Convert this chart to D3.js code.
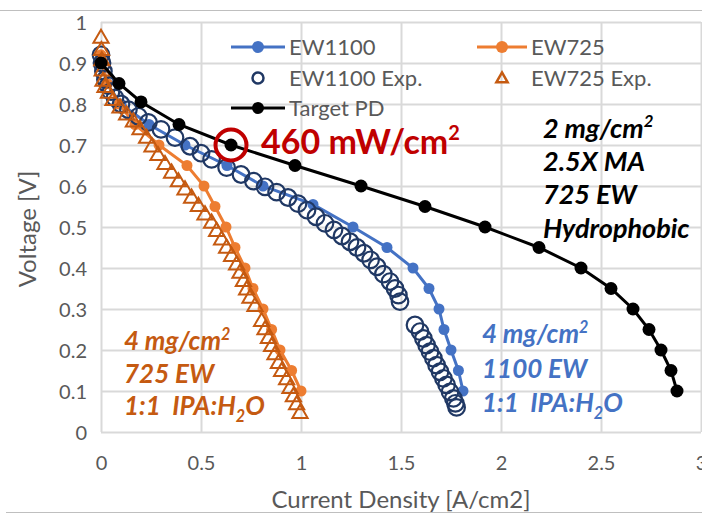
<!DOCTYPE html>
<html>
<head>
<meta charset="utf-8">
<script src="https://cdn.jsdelivr.net/npm/d3@7"></script>
<style>
  html, body { margin: 0; padding: 0; background: #fff; }
  svg { display: block; }
  text { font-family: Lato, "Open Sans", "Liberation Sans", sans-serif; white-space: pre; }
</style>
</head>
<body>
<svg id="chart" width="702" height="516"></svg>
<script>
// Polarization curves: current density [A/cm2] vs. cell voltage [V]
const xTicks = [0, 0.5, 1, 1.5, 2, 2.5, 3];
const xTickLabels = ["0", "0.5", "1", "1.5", "2", "2.5", "3"];
const yTicks = [0, 0.1, 0.2, 0.3, 0.4, 0.5, 0.6, 0.7, 0.8, 0.9, 1];
const yTickLabels = ["0", "0.1", "0.2", "0.3", "0.4", "0.5", "0.6", "0.7", "0.8", "0.9", "1"];

const seriesNames = ["EW1100", "EW725", "EW1100 Exp.", "EW725 Exp.", "Target PD"];

// Model curves
const ew1100 = [
  [0, 0.91], [0.03, 0.85], [0.1, 0.80], [0.24, 0.75], [0.42, 0.70], [0.63, 0.65],
  [0.81, 0.60], [1.06, 0.555], [1.26, 0.50], [1.43, 0.45], [1.56, 0.40], [1.64, 0.35],
  [1.69, 0.30], [1.715, 0.25], [1.75, 0.20], [1.787, 0.15], [1.81, 0.10]
];
const ew725 = [
  [0, 0.92], [0.03, 0.85], [0.09, 0.80], [0.17, 0.75], [0.29, 0.70], [0.43, 0.65],
  [0.515, 0.60], [0.57, 0.55], [0.625, 0.50], [0.67, 0.45], [0.72, 0.40], [0.76, 0.35],
  [0.81, 0.30], [0.853, 0.25], [0.895, 0.20], [0.953, 0.15], [1.0, 0.10]
];

// Measured data
const ew1100Exp = [
  [0, 0.92], [0.005, 0.90], [0.012, 0.88], [0.022, 0.86], [0.035, 0.845], [0.05, 0.83],
  [0.07, 0.815], [0.1, 0.80], [0.137, 0.786], [0.187, 0.77], [0.237, 0.755], [0.30, 0.738],
  [0.37, 0.718], [0.445, 0.697], [0.50, 0.68], [0.553, 0.665], [0.628, 0.645], [0.70, 0.628],
  [0.762, 0.612], [0.82, 0.598], [0.878, 0.585], [0.935, 0.572], [0.985, 0.557], [1.03, 0.541],
  [1.075, 0.525], [1.12, 0.509], [1.165, 0.493], [1.205, 0.478], [1.245, 0.464], [1.28, 0.45],
  [1.315, 0.436], [1.348, 0.42], [1.38, 0.403], [1.412, 0.385], [1.445, 0.367], [1.47, 0.35],
  [1.487, 0.334], [1.495, 0.318],
  [1.57, 0.261], [1.595, 0.245], [1.612, 0.228], [1.628, 0.212], [1.645, 0.196], [1.662, 0.18],
  [1.678, 0.163], [1.695, 0.147], [1.712, 0.131], [1.728, 0.115], [1.745, 0.098], [1.762, 0.082],
  [1.772, 0.07], [1.778, 0.06]
];
const ew725Exp = [
  [0, 0.96], [0.002, 0.93], [0.004, 0.905], [0.006, 0.88], [0.01, 0.855], [0.02, 0.84],
  [0.037, 0.826], [0.06, 0.808], [0.095, 0.79], [0.128, 0.773], [0.162, 0.756], [0.195, 0.737],
  [0.228, 0.716], [0.255, 0.695], [0.285, 0.674], [0.32, 0.652], [0.353, 0.631], [0.387, 0.61],
  [0.42, 0.59], [0.453, 0.57], [0.487, 0.55], [0.52, 0.529], [0.553, 0.509], [0.578, 0.489],
  [0.603, 0.468], [0.628, 0.448], [0.653, 0.428], [0.678, 0.407], [0.695, 0.387], [0.712, 0.367],
  [0.728, 0.346], [0.745, 0.326], [0.77, 0.306], [0.803, 0.269], [0.82, 0.249], [0.837, 0.228],
  [0.853, 0.208], [0.87, 0.188], [0.887, 0.167], [0.903, 0.147], [0.928, 0.127], [0.945, 0.106],
  [0.962, 0.086], [0.978, 0.066], [0.995, 0.045]
];

// Target performance
const targetPD = [
  [0, 0.9], [0.09, 0.85], [0.2, 0.805], [0.39, 0.75], [0.65, 0.70], [0.97, 0.65],
  [1.3, 0.60], [1.62, 0.55], [1.92, 0.50], [2.19, 0.45], [2.4, 0.40], [2.55, 0.35],
  [2.66, 0.30], [2.74, 0.25], [2.8, 0.20], [2.85, 0.15], [2.88, 0.10]
];

// Highlighted operating point on the target curve
const highlightPoint = [0.65, 0.70];
const highlightLabel = "460 mW/cm";

const colors = {
  ew1100: "#4472C4",
  ew725: "#ED7D31",
  ew1100Exp: "#203864",
  ew725Exp: "#C55A11",
  target: "#000000",
  accent: "#C00000",
  grid: "#D9D9D9",
  text: "#595959"
};

const svg = d3.select("#chart");
const W = 702, H = 516;
const plotL = 101, plotR = 701, plotT = 22, plotB = 432;

const x = d3.scaleLinear().domain([0, 3]).range([plotL, plotR]);
const y = d3.scaleLinear().domain([0, 1]).range([plotB, plotT]);

// Frame lines of the surrounding slide
svg.append("line").attr("x1", 0).attr("x2", W).attr("y1", 10.5).attr("y2", 10.5)
  .attr("stroke", "#BFBFBF").attr("stroke-width", 1);
svg.append("line").attr("x1", 6).attr("x2", W).attr("y1", 512.5).attr("y2", 512.5)
  .attr("stroke", "#BFBFBF").attr("stroke-width", 1);

// Gridlines + tick labels through d3 axes
const xAxis = d3.axisBottom(x).tickValues(xTicks)
  .tickFormat((d, i) => xTickLabels[i])
  .tickSize(-(plotB - plotT)).tickPadding(20);
const yAxis = d3.axisLeft(y).tickValues(yTicks)
  .tickFormat((d, i) => yTickLabels[i])
  .tickSize(-(plotR - plotL)).tickPadding(14);

const gx = svg.append("g").attr("transform", `translate(0,${plotB})`).call(xAxis);
const gy = svg.append("g").attr("transform", `translate(${plotL},0)`).call(yAxis);
[gx, gy].forEach(g => {
  g.select(".domain").remove();
  g.selectAll(".tick line").attr("stroke", colors.grid).attr("stroke-width", 2);
  g.selectAll(".tick text").attr("fill", colors.text).attr("font-size", 20);
});
gy.selectAll(".tick text").attr("dy", "0.35em");
gx.selectAll(".tick text").attr("dy", "0.9em");

// Axis titles
svg.append("text").attr("x", (plotL + plotR) / 2).attr("y", 508)
  .attr("text-anchor", "middle").attr("fill", colors.text).attr("font-size", 24)
  .text("Current Density [A/cm2]");
svg.append("text").attr("transform", `translate(36,${(plotT + plotB) / 2 + 2}) rotate(-90)`)
  .attr("text-anchor", "middle").attr("fill", colors.text).attr("font-size", 24)
  .text("Voltage [V]");

const line = d3.line().x(d => x(d[0])).y(d => y(d[1]));
const plot = svg.append("g");

function lineSeries(data, color, r) {
  plot.append("path").datum(data).attr("d", line)
    .attr("fill", "none").attr("stroke", color).attr("stroke-width", 3);
  plot.append("g").selectAll("circle").data(data).join("circle")
    .attr("cx", d => x(d[0])).attr("cy", d => y(d[1])).attr("r", r)
    .attr("fill", color);
}

lineSeries(ew1100, colors.ew1100, 5.5);
lineSeries(ew725, colors.ew725, 5.5);

plot.append("g").selectAll("circle").data(ew1100Exp).join("circle")
  .attr("cx", d => x(d[0])).attr("cy", d => y(d[1])).attr("r", 8.3)
  .attr("fill", "none").attr("stroke", colors.ew1100Exp).attr("stroke-width", 2.2);

const tri = d3.symbol().type(d3.symbolTriangle).size(100);
plot.append("g").selectAll("path").data(ew725Exp).join("path")
  .attr("transform", d => `translate(${x(d[0])},${y(d[1])})`)
  .attr("d", tri).attr("fill", "none").attr("stroke", colors.ew725Exp).attr("stroke-width", 2);

lineSeries(targetPD, colors.target, 6.5);

// Legend
const legend = svg.append("g");
const legendItems = [
  { name: seriesNames[0], kind: "line", color: colors.ew1100, lx: 231, ly: 47 },
  { name: seriesNames[1], kind: "line", color: colors.ew725, lx: 477, ly: 47 },
  { name: seriesNames[2], kind: "circle", color: colors.ew1100Exp, lx: 231, ly: 78 },
  { name: seriesNames[3], kind: "tri", color: colors.ew725Exp, lx: 477, ly: 78 },
  { name: seriesNames[4], kind: "line", color: colors.target, lx: 231, ly: 108 }
];
legendItems.forEach(it => {
  const g = legend.append("g").attr("transform", `translate(${it.lx},${it.ly})`);
  const w = it.lx > 400 ? 50 : 54;
  if (it.kind === "line") {
    g.append("line").attr("x1", 0).attr("x2", w).attr("stroke", it.color).attr("stroke-width", 3);
    g.append("circle").attr("cx", w / 2).attr("r", 6).attr("fill", it.color);
  } else if (it.kind === "circle") {
    g.append("circle").attr("cx", w / 2).attr("r", 5.5).attr("fill", "none")
      .attr("stroke", it.color).attr("stroke-width", 2.5);
  } else {
    g.append("path").attr("transform", `translate(${w / 2},1)`)
      .attr("d", d3.symbol().type(d3.symbolTriangle).size(55))
      .attr("fill", "none").attr("stroke", it.color).attr("stroke-width", 2.5);
  }
  g.append("text").attr("x", w + 4).attr("dy", "0.36em").attr("fill", colors.text)
    .attr("font-size", 22).text(it.name);
});

// Highlighted target point
svg.append("circle").attr("cx", x(highlightPoint[0])).attr("cy", y(highlightPoint[1]))
  .attr("r", 15.5).attr("fill", "none").attr("stroke", colors.accent).attr("stroke-width", 4);
const hl = svg.append("text").attr("x", 261).attr("y", 154).attr("fill", colors.accent)
  .attr("font-size", 34).attr("font-weight", 700);
hl.append("tspan").text(highlightLabel);
hl.append("tspan").attr("font-size", 20).attr("dy", -14).text("2");

// Condition notes
function note(lines, x0, baselines, color, size) {
  lines.forEach((ln, i) => {
    const t = svg.append("text").attr("x", x0).attr("y", baselines[i]).attr("fill", color)
      .attr("font-size", size).attr("font-weight", 700).attr("font-style", "italic");
    ln.forEach(part => {
      const s = t.append("tspan").text(part.t);
      if (part.sup) s.attr("font-size", size * 0.62).attr("dy", -size * 0.4);
      if (part.sub) s.attr("font-size", size * 0.62).attr("dy", size * 0.25);
      if (part.reset) s.attr("dy", -size * 0.25);
    });
  });
}
const blackNote = [
  [{ t: "2 mg/cm" }, { t: "2", sup: true }],
  [{ t: "2.5X MA" }],
  [{ t: "725 EW" }],
  [{ t: "Hydrophobic" }]
];
const loadingNote = ew => [
  [{ t: "4 mg/cm" }, { t: "2", sup: true }],
  [{ t: ew + " EW" }],
  [{ t: "1:1  IPA:H" }, { t: "2", sub: true }, { t: "O", reset: true }]
];
note(blackNote, 543, [138, 171, 204, 238], "#000000", 27);
note(loadingNote("725"), 124, [350, 383, 415], colors.ew725Exp, 26);
note(loadingNote("1100"), 482, [343, 378, 412], colors.ew1100, 26);
</script>
</body>
</html>
